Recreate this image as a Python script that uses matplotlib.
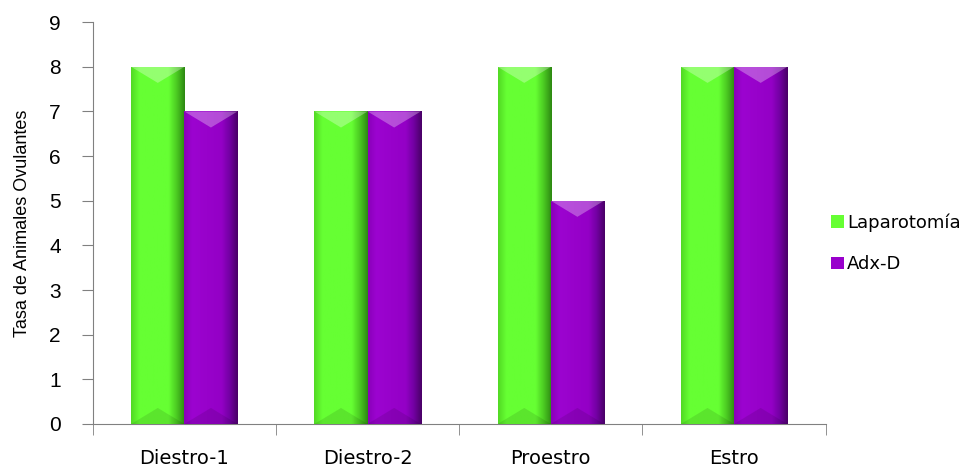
import numpy as np
import matplotlib.pyplot as plt
from matplotlib.colors import LinearSegmentedColormap
from matplotlib.patches import Polygon

plt.rcParams['font.family'] = ['Liberation Sans', 'DejaVu Sans']

categories = ['Diestro-1', 'Diestro-2', 'Proestro', 'Estro']
laparotomia = [8, 7, 8, 8]
adx_d = [7, 7, 5, 8]
series_names = ['Laparotomía', 'Adx-D']

green = '#66FF33'
purple = '#9900CC'

fig = plt.figure(figsize=(9.76, 4.72), dpi=100)
ax = fig.add_axes([0.095, 0.1017, 0.751, 0.8513])

x = np.arange(len(categories))
w = 0.29

grad_g = LinearSegmentedColormap.from_list(
    'g', [(0, '#52DA24'), (0.15, '#66FF33'), (0.7, '#66FF33'), (0.85, '#4CCC22'), (1, '#2E8A12')])
grad_p = LinearSegmentedColormap.from_list(
    'p', [(0, '#8A00BA'), (0.15, '#9C04D0'), (0.7, '#9400C6'), (0.85, '#7400A4'), (1, '#4A0068')])


def draw_bars(xs, vals, color, cmap, label):
    bars = ax.bar(xs, vals, width=w, color=color, label=label, zorder=2)
    grad = np.linspace(0, 1, 64).reshape(1, -1)
    for b in bars:
        x0, x1 = b.get_x(), b.get_x() + b.get_width()
        h = b.get_height()
        im = ax.imshow(grad, cmap=cmap, aspect='auto', extent=(x0, x1, 0, h), zorder=3)
        im.set_clip_path(b)
        d = 0.36
        xc = (x0 + x1) / 2
        top = Polygon([(x0, h), (x1, h), (xc, h - d)], closed=True,
                      facecolor='white', alpha=0.3, edgecolor='none', zorder=4)
        ax.add_patch(top)
        bot = Polygon([(x0, 0), (x1, 0), (xc, d)], closed=True,
                      facecolor='black', alpha=0.1, edgecolor='none', zorder=4)
        ax.add_patch(bot)
    return bars


draw_bars(x - w / 2, laparotomia, green, grad_g, series_names[0])
draw_bars(x + w / 2, adx_d, purple, grad_p, series_names[1])

ax.set_xlim(-0.5, len(categories) - 0.5)
ax.set_ylim(0, 9)
ax.set_yticks(range(10))
ax.set_yticklabels([str(v) for v in range(10)], fontsize=15)
ax.tick_params(axis='y', direction='out', length=8, color='#808080', pad=15)

ax.set_xticks(x)
ax.set_xticklabels(categories, fontsize=14, family='DejaVu Sans')
ax.tick_params(axis='x', which='major', length=0, pad=18)
ax.set_xticks(np.arange(len(categories) + 1) - 0.5, minor=True)
ax.tick_params(axis='x', which='minor', direction='out', length=8, color='#808080')

for s in ['top', 'right']:
    ax.spines[s].set_visible(False)
for s in ['left', 'bottom']:
    ax.spines[s].set_color('#808080')

ax.set_ylabel('Tasa de Animales Ovulantes', fontsize=13, labelpad=13)

ax.legend(loc='center left', bbox_to_anchor=(0.985, 0.45), frameon=False,
          prop={'family': 'DejaVu Sans', 'size': 13}, handlelength=0.7, handleheight=0.7,
          labelspacing=1.3, handletextpad=0.2)

fig.savefig('out.png', dpi=100)
